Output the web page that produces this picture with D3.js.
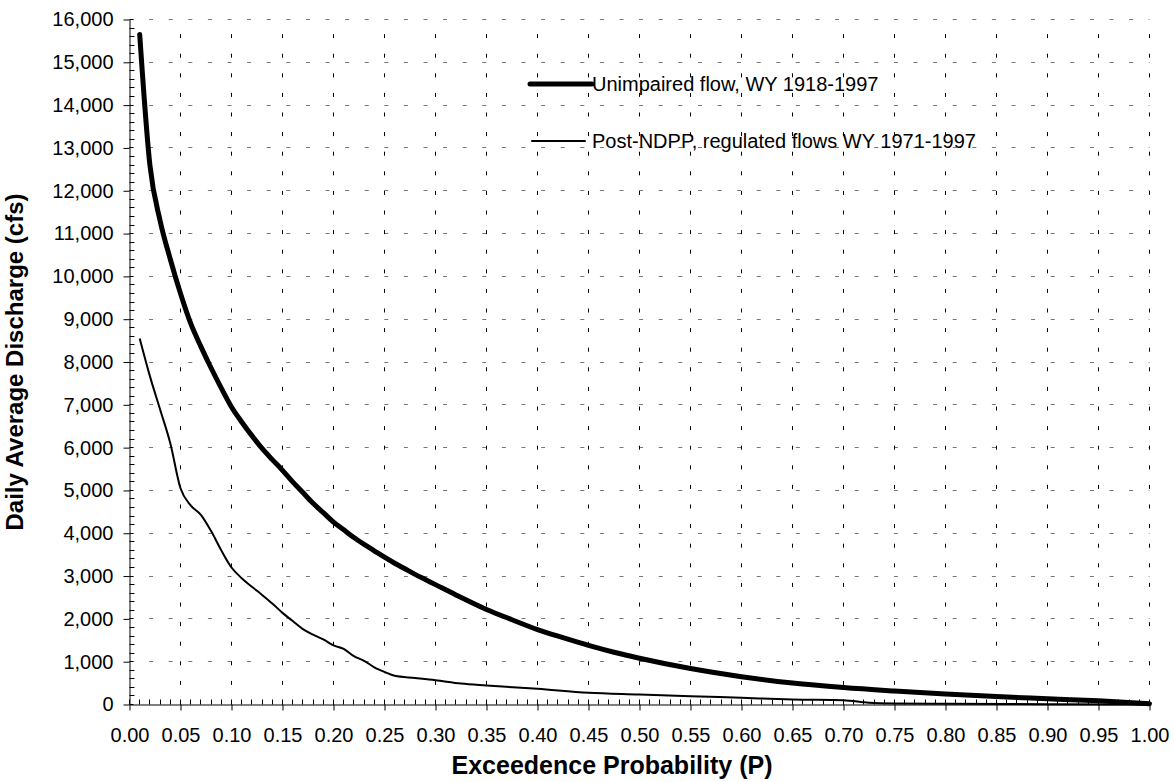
<!DOCTYPE html>
<html lang="en">
  <head>
    <meta charset="UTF-8" />
    <title>Exceedence</title>
    <style>
      body { margin: 0; background: #fff; }
      svg { font-family: "Liberation Sans", Arial, sans-serif; display: block; }
    </style>
  </head>
  <body>
    <div id="chart">
      <svg width="1174" height="782"></svg>
    </div>
    <script src="https://d3js.org/d3.v7.min.js"></script>
    <script>
      // unimpaired flow, WY 1918-1997
      var unimpP = [0.01, 0.02, 0.03, 0.04, 0.05, 0.06, 0.07, 0.08, 0.09, 0.10,
        0.11, 0.12, 0.13, 0.14, 0.15, 0.16, 0.17, 0.18, 0.19, 0.20,
        0.21, 0.22, 0.23, 0.24, 0.25, 0.26, 0.27, 0.28, 0.29, 0.30,
        0.32, 0.35, 0.375, 0.40, 0.425, 0.45, 0.475, 0.50, 0.55, 0.60,
        0.65, 0.70, 0.75, 0.80, 0.85, 0.90, 0.95, 1.00];
      var unimpQ = [15650, 12600, 11300, 10400, 9600, 8900, 8360, 7860, 7390, 6950,
        6600, 6280, 5980, 5720, 5470, 5200, 4950, 4700, 4480, 4260,
        4080, 3900, 3740, 3590, 3440, 3300, 3170, 3040, 2920, 2800,
        2560, 2220, 1980, 1750, 1560, 1380, 1220, 1080, 840, 650,
        500, 395, 315, 245, 185, 135, 85, 20];

      // post-NDPP regulated flows, WY 1971-1997
      var regP = [0.01, 0.02, 0.03, 0.04, 0.05, 0.06, 0.07, 0.08, 0.09, 0.10,
        0.11, 0.12, 0.13, 0.14, 0.15, 0.16, 0.17, 0.18, 0.19, 0.20,
        0.21, 0.22, 0.23, 0.24, 0.25, 0.26, 0.28, 0.30, 0.325, 0.35,
        0.40, 0.45, 0.50, 0.55, 0.60, 0.65, 0.70, 0.725, 0.75, 0.80,
        0.90, 1.00];
      var regQ = [8550, 7670, 6890, 6100, 5050, 4650, 4430, 4050, 3600, 3200,
        2950, 2750, 2560, 2360, 2140, 1950, 1760, 1630, 1520, 1380,
        1300, 1130, 1020, 870, 760, 670, 620, 568, 490, 444,
        366, 273, 234, 194, 156, 117, 100, 40, 23, 15,
        8, 0];

      var xMajor = d3.range(0, 21).map(function (i) { return i * 0.05; });
      var xMinor = d3.range(0, 101).map(function (i) { return i * 0.01; });
      var yMajor = d3.range(0, 17).map(function (i) { return i * 1000; });
      var yMinor = d3.range(0, 81).map(function (i) { return i * 200; });

      var seriesNames = ["Unimpaired flow, WY 1918-1997", "Post-NDPP, regulated flows WY 1971-1997"];

      var svg = d3.select("#chart>svg");
      var margin = { top: 19.5, right: 24, bottom: 77, left: 129.5 };
      var width = 1020;
      var height = 685;
      var g = svg.append("g")
        .attr("transform", "translate(" + margin.left + "," + margin.top + ")");

      var x = d3.scaleLinear().domain([0, 1]).range([0, width]);
      var y = d3.scaleLinear().domain([0, 16000]).range([height, 0]);

      // grid
      g.append("g").selectAll("line")
        .data(yMajor.slice(1))
        .enter().append("line")
        .attr("x1", 0).attr("x2", width)
        .attr("y1", function (d) { return Math.round(y(d)); })
        .attr("y2", function (d) { return Math.round(y(d)); })
        .attr("stroke", "#777")
        .attr("stroke-dasharray", "4,15.6");

      g.append("g").selectAll("line")
        .data(xMajor.slice(1))
        .enter().append("line")
        .attr("x1", function (d) { return Math.round(x(d)); })
        .attr("x2", function (d) { return Math.round(x(d)); })
        .attr("y1", height).attr("y2", 0)
        .attr("stroke", "#000")
        .attr("stroke-dasharray", "4,15.6");

      // axes
      var fmtY = d3.format(",");
      var fmtX = d3.format(".2f");

      var yAxis = g.append("g")
        .call(d3.axisLeft(y).tickValues(yMajor).tickFormat(fmtY).tickSizeInner(6).tickSizeOuter(0).tickPadding(10));
      yAxis.select(".domain").attr("stroke", "#000");
      yAxis.selectAll("text").attr("font-size", "20px").attr("fill", "#000");

      var xAxis = g.append("g")
        .attr("transform", "translate(0," + height + ")")
        .call(d3.axisBottom(x).tickValues(xMajor).tickFormat(fmtX).tickSizeInner(6).tickSizeOuter(0).tickPadding(17));
      xAxis.select(".domain").attr("stroke", "#000");
      xAxis.selectAll("text").attr("font-size", "20px").attr("fill", "#000");

      // inside ticks
      g.append("g").selectAll("line")
        .data(yMinor)
        .enter().append("line")
        .attr("x1", 0)
        .attr("x2", function (d) { return d % 1000 === 0 ? 4 : 5; })
        .attr("y1", function (d) { return Math.round(y(d)); })
        .attr("y2", function (d) { return Math.round(y(d)); })
        .attr("stroke", "#000");

      g.append("g").selectAll("line")
        .data(xMinor)
        .enter().append("line")
        .attr("x1", function (d) { return Math.round(x(d)); })
        .attr("x2", function (d) { return Math.round(x(d)); })
        .attr("y1", height)
        .attr("y2", height - 5)
        .attr("stroke", "#000");

      // curves
      var line = d3.line()
        .x(function (d) { return x(d[0]); })
        .y(function (d) { return y(d[1]); })
        .curve(d3.curveMonotoneX);

      g.append("path")
        .datum(d3.zip(regP, regQ))
        .attr("fill", "none")
        .attr("stroke", "#000")
        .attr("stroke-width", 2)
        .attr("stroke-linejoin", "round")
        .attr("d", line);

      g.append("path")
        .datum(d3.zip(unimpP, unimpQ))
        .attr("fill", "none")
        .attr("stroke", "#000")
        .attr("stroke-width", 5)
        .attr("stroke-linejoin", "round")
        .attr("stroke-linecap", "round")
        .attr("d", line);

      // legend
      var legend = svg.append("g");
      var legendRows = [
        { name: seriesNames[0], w: 5, x1: 530, x2: 592, y: 84 },
        { name: seriesNames[1], w: 2, x1: 532, x2: 585, y: 141 }
      ];
      legendRows.forEach(function (r) {
        legend.append("line")
          .attr("x1", r.x1).attr("x2", r.x2)
          .attr("y1", r.y).attr("y2", r.y)
          .attr("stroke", "#000")
          .attr("stroke-width", r.w)
          .attr("stroke-linecap", "round");
        legend.append("text")
          .attr("x", 592)
          .attr("y", r.y)
          .attr("dy", "0.35em")
          .attr("font-size", "20px")
          .text(r.name);
      });

      // axis titles
      svg.append("text")
        .attr("x", 612)
        .attr("y", 774)
        .attr("text-anchor", "middle")
        .attr("font-size", "25px")
        .attr("font-weight", "bold")
        .text("Exceedence Probability (P)");

      svg.append("text")
        .attr("transform", "translate(23,362) rotate(-90)")
        .attr("text-anchor", "middle")
        .attr("font-size", "24px")
        .attr("font-weight", "bold")
        .text("Daily Average Discharge (cfs)");
    </script>
  </body>
</html>
